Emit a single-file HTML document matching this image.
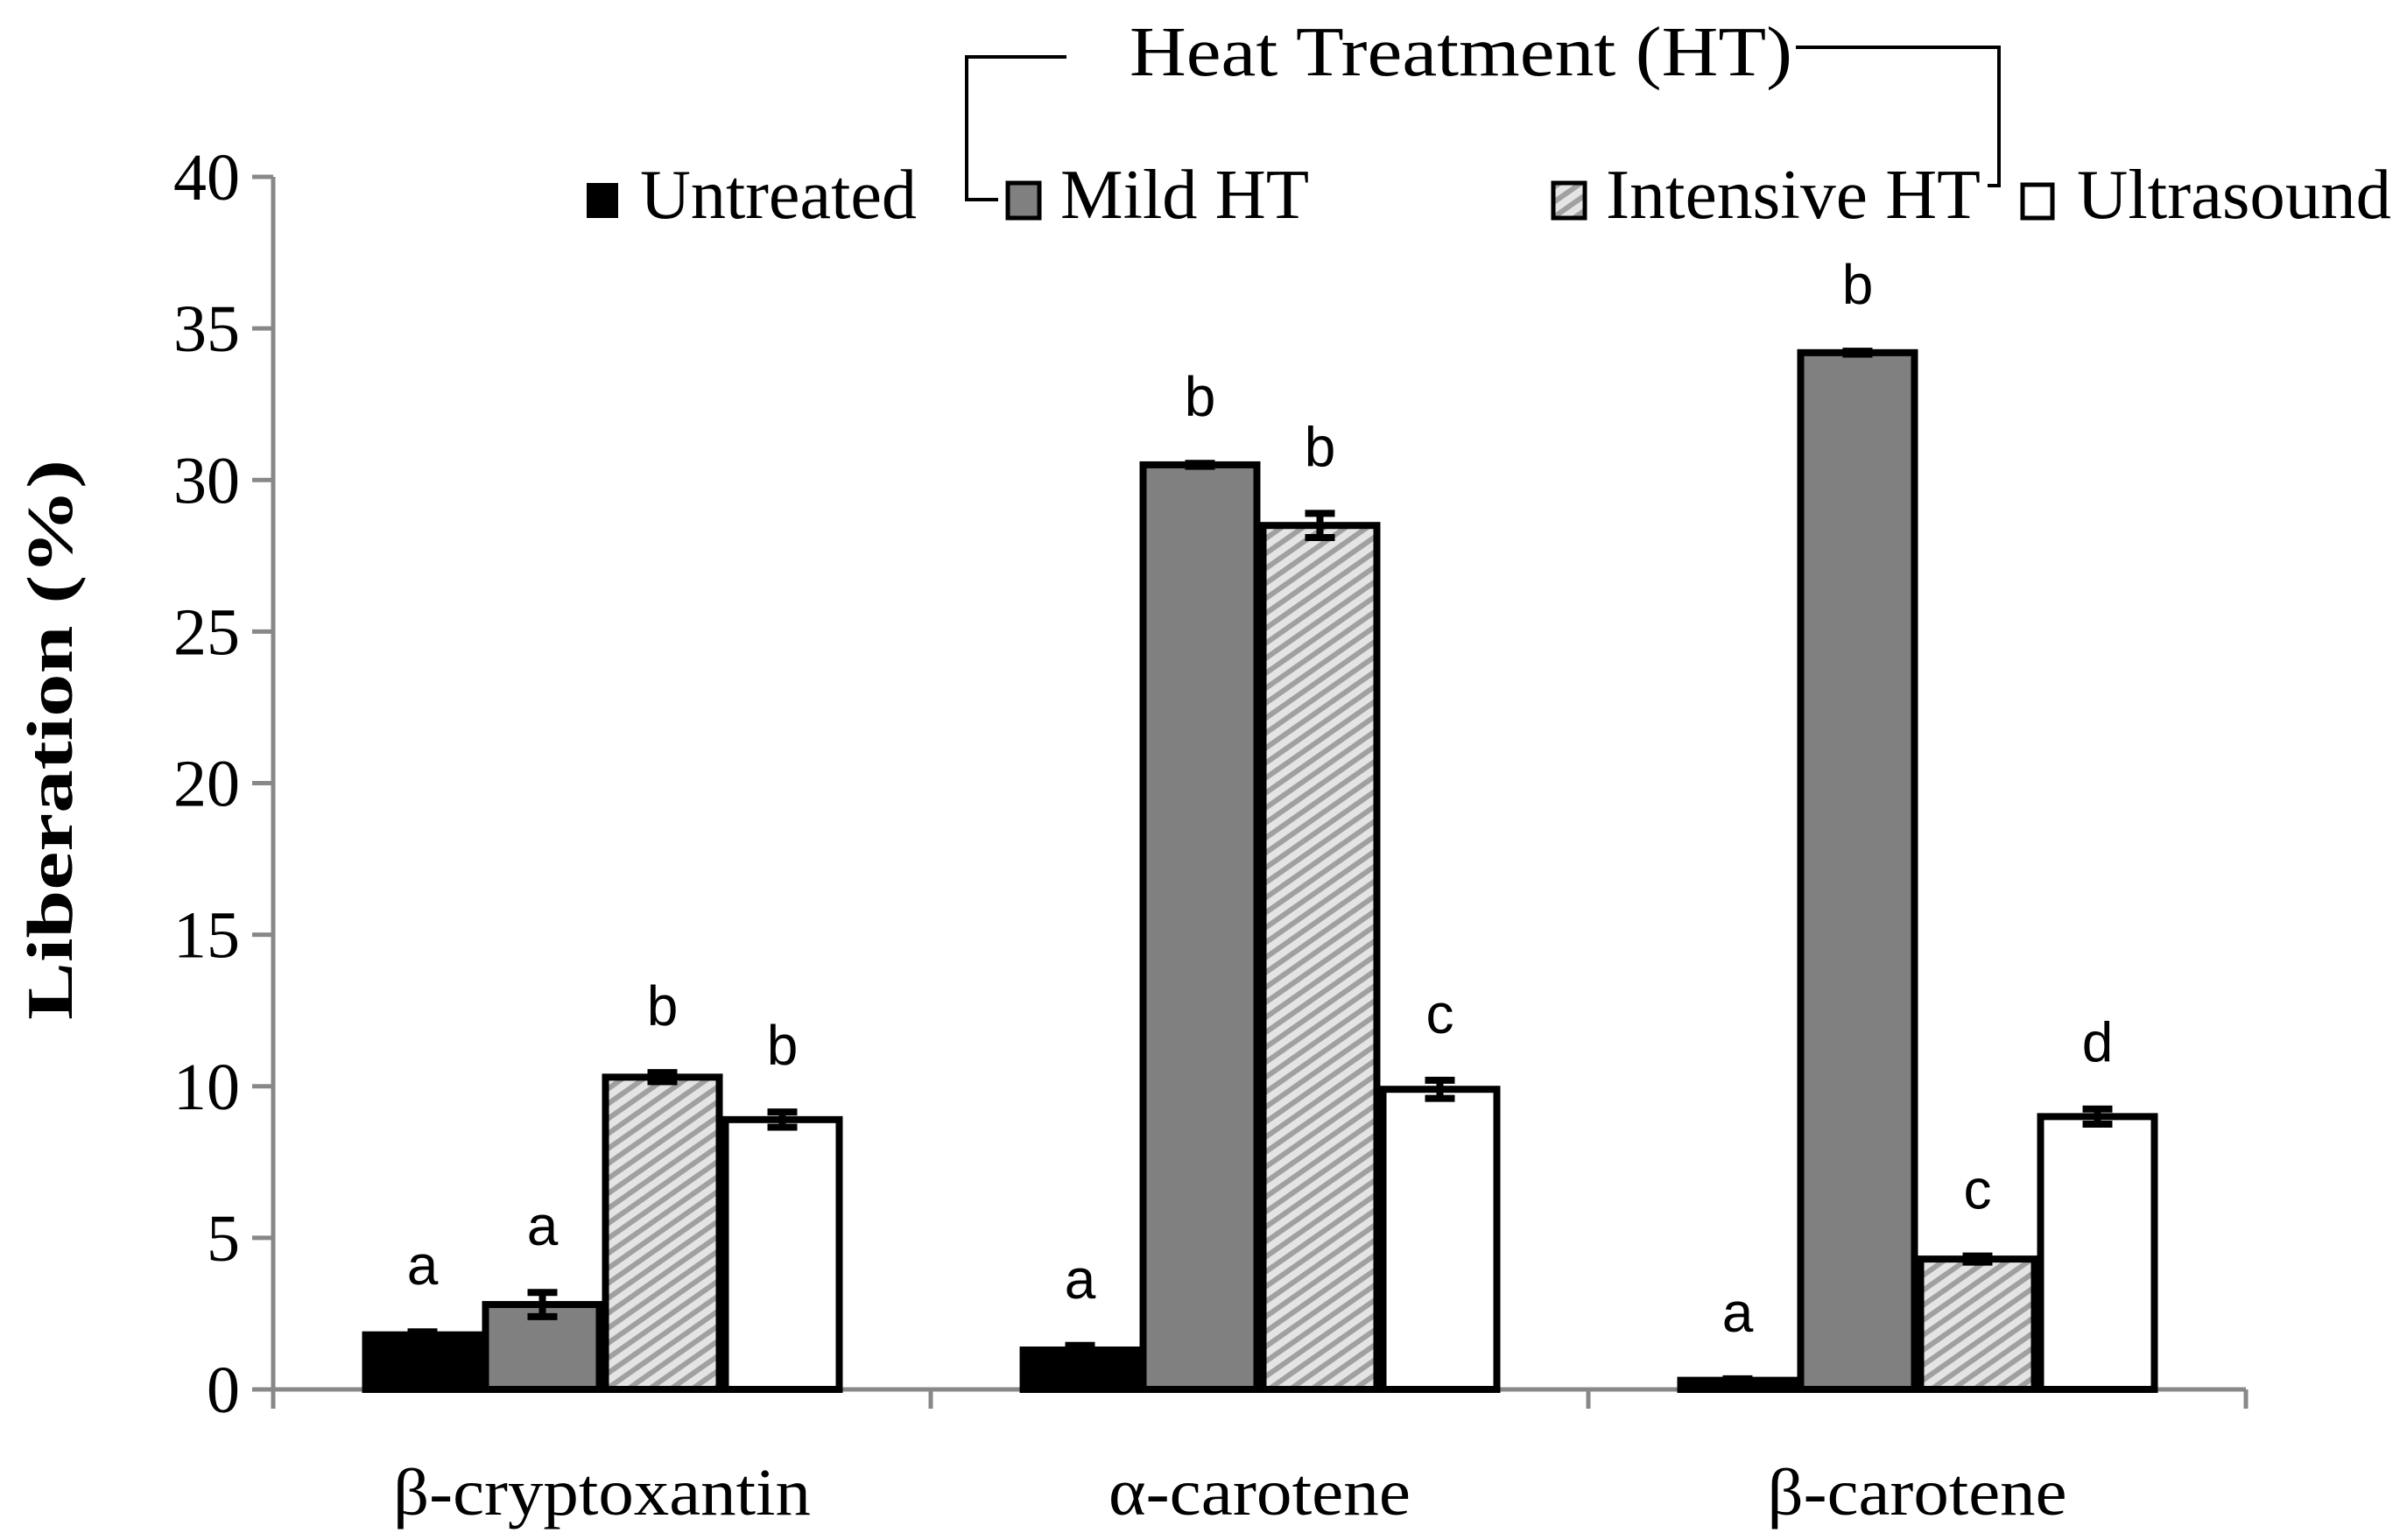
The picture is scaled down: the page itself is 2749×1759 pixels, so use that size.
<!DOCTYPE html>
<html><head><meta charset="utf-8"><style>html,body{margin:0;padding:0;background:#fff}svg{display:block}</style></head>
<body>
<svg id="chart" width="2749" height="1759" viewBox="0 0 2749 1759" xmlns="http://www.w3.org/2000/svg">
<defs>
<pattern id="hatch" patternUnits="userSpaceOnUse" width="14" height="14" patternTransform="rotate(-35)">
<rect width="14" height="14" fill="#e4e4e4"/><rect width="14" height="6" fill="#a0a0a0"/></pattern>
</defs>
<g id="axes"></g>
<g id="bars"></g>
<g id="legend" font-family="Liberation Serif, serif" font-size="80">
<text x="1290" y="86" textLength="757" lengthAdjust="spacingAndGlyphs">Heat Treatment (HT)</text>
<polyline points="1218,65 1104,65 1104,228 1140,228" fill="none" stroke="#000" stroke-width="4"/>
<polyline points="2051,54 2283,54 2283,212 2270,212" fill="none" stroke="#000" stroke-width="4"/>
<rect x="670" y="209" width="36" height="40" fill="#000"/>
<text x="731" y="249" textLength="316" lengthAdjust="spacingAndGlyphs">Untreated</text>
<rect x="1151" y="209" width="36" height="40" fill="#808080" stroke="#000" stroke-width="5"/>
<text x="1211" y="249" textLength="284" lengthAdjust="spacingAndGlyphs">Mild HT</text>
<rect x="1774" y="209" width="36" height="40" fill="url(#hatch)" stroke="#000" stroke-width="5"/>
<text x="1834" y="249" textLength="428" lengthAdjust="spacingAndGlyphs">Intensive HT</text>
<rect x="2310" y="211" width="34" height="38" fill="#fff" stroke="#000" stroke-width="5"/>
<text x="2372" y="249" textLength="359" lengthAdjust="spacingAndGlyphs">Ultrasound</text>
</g>
<text transform="translate(82,845) rotate(-90)" text-anchor="middle" textLength="640" lengthAdjust="spacingAndGlyphs" font-family="Liberation Serif, serif" font-weight="bold" font-size="74">Liberation (%)</text>
</svg>
<script>
const categories = ["β-cryptoxantin", "α-carotene", "β-carotene"];
const untreated = [1.8, 1.3, 0.3];
const mildHT = [2.8, 30.5, 34.2];
const intensiveHT = [10.3, 28.5, 4.3];
const ultrasound = [8.9, 9.9, 9.0];
const errUntreated = [0.1, 0.15, 0.05];
const errMild = [0.4, 0.05, 0.05];
const errIntensive = [0.15, 0.4, 0.1];
const errUltrasound = [0.25, 0.3, 0.25];
const lettersUntreated = ["a", "a", "a"];
const lettersMild = ["a", "b", "b"];
const lettersIntensive = ["b", "b", "c"];
const lettersUltrasound = ["b", "c", "d"];
const yTicks = [0, 5, 10, 15, 20, 25, 30, 35, 40];
const catLabelWidths = [477, 345, 342];

const NS = "http://www.w3.org/2000/svg";
const X0 = 312, X1 = 2565, Y0 = 1587, Ytop = 202, YMAX = 40;
const groupW = (X1 - X0) / categories.length;
const barW = 137, offset = 102;
function y(v) { return Y0 - (v / YMAX) * (Y0 - Ytop); }
function bx(ci, si) { return X0 + ci * groupW + offset + si * barW; }
function mk(tag, attrs, parent) { const e = document.createElementNS(NS, tag); for (const k in attrs) e.setAttribute(k, attrs[k]); parent.appendChild(e); return e; }

const axes = document.getElementById("axes");
const bars = document.getElementById("bars");
let e;
e = mk("line", {x1: X0, y1: Ytop, x2: X0, y2: Y0 + 22, stroke: "#888", "stroke-width": 5}, axes);


yTicks.forEach(t => {
  const l = mk("line", {x1: X0 - 24, y1: y(t), x2: X0, y2: y(t), stroke: "#888", "stroke-width": 5}, axes);
  
  
  const tx = mk("text", {x: X0 - 38, y: y(t) + 26, "text-anchor": "end", "font-family": "Liberation Serif, serif", "font-size": 76}, axes);
  tx.textContent = t;
  
  
});
for (let i = 0; i <= categories.length; i++) {
  const xx = X0 + i * groupW;
  const l = mk("line", {x1: xx, y1: Y0, x2: xx, y2: Y0 + 22, stroke: "#888", "stroke-width": 5}, axes);
  
  
}
categories.forEach((c, ci) => {
  const tx = mk("text", {x: X0 + ci * groupW + groupW / 2, y: 1730, "text-anchor": "middle", textLength: catLabelWidths[ci], lengthAdjust: "spacingAndGlyphs", "font-family": "Liberation Serif, serif", "font-size": 76}, axes);
  tx.textContent = c;
  
  
});

const series = [
  {vals: untreated, err: errUntreated, let: lettersUntreated, fill: "#000", stroke: "#000", name: "untreated"},
  {vals: mildHT, err: errMild, let: lettersMild, fill: "#808080", stroke: "#000", name: "mild-ht"},
  {vals: intensiveHT, err: errIntensive, let: lettersIntensive, fill: "url(#hatch)", stroke: "#000", name: "intensive-ht"},
  {vals: ultrasound, err: errUltrasound, let: lettersUltrasound, fill: "#fff", stroke: "#000", name: "ultrasound"}
];
series.forEach((s, si) => {
  categories.forEach((c, ci) => {
    const v = s.vals[ci], x = bx(ci, si);
    const r = mk("rect", {x: x + 3.5, y: y(v), width: barW - 7, height: Y0 - y(v), fill: s.fill, stroke: s.stroke, "stroke-width": 8}, bars);
    
    
    const cx = x + barW / 2, eh = y(v - s.err[ci]), el = y(v + s.err[ci]);
    const eb = mk("path", {d: `M${cx - 17},${el} H${cx + 17} M${cx},${el} V${eh} M${cx - 17},${eh} H${cx + 17}`, stroke: "#000", "stroke-width": 8, fill: "none"}, bars);
    
    
    const t = mk("text", {x: cx, y: el - 54, "text-anchor": "middle", "font-family": "Liberation Sans, sans-serif", "font-size": 64}, bars);
    t.textContent = s.let[ci];
    
    
  });
});
e = mk("line", {x1: X0 - 24, y1: Y0, x2: X1, y2: Y0, stroke: "#888", "stroke-width": 5}, axes);


</script>
</body></html>
